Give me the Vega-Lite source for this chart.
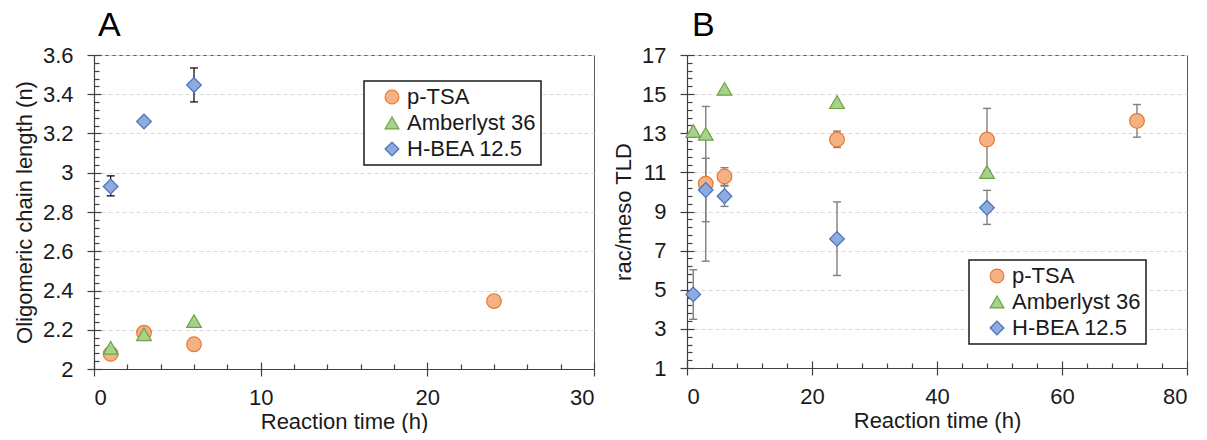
{
  "$schema": "https://vega.github.io/schema/vega-lite/v6.json",
  "background": "white",
  "padding": {"left": 12, "top": 8, "right": 0, "bottom": 0},
  "spacing": 16,
  "resolve": {
    "scale": {"shape": "independent", "fill": "independent", "stroke": "independent"},
    "legend": {"shape": "independent", "fill": "independent", "stroke": "independent"}
  },
  "config": {
    "font": "Liberation Sans",
    "view": {"stroke": "#595959", "strokeWidth": 1},
    "axis": {
      "labelFont": "Liberation Sans", "titleFont": "Liberation Sans",
      "labelFontSize": 22, "titleFontSize": 22, "titleFontWeight": "normal",
      "labelColor": "#1a1a1a", "titleColor": "#1a1a1a",
      "domainColor": "#404040", "tickColor": "#404040", "domainWidth": 1.2, "tickWidth": 1.2,
      "gridColor": "#d9d9d9", "gridDash": [4, 3], "gridWidth": 1
    },
    "legend": {
      "orient": "none", "strokeColor": "#1a1a1a", "fillColor": "white", "strokeWidth": 1.5,
      "padding": 5, "labelFont": "Liberation Sans", "labelFontSize": 22, "labelColor": "#1a1a1a",
      "symbolSize": 190, "symbolStrokeWidth": 1.2, "symbolOffset": 12, "labelOffset": 4,
      "rowPadding": 4, "symbolOpacity": 1, "labelLimit": 300,
      "labelExpr": "datum.label + '\u00a0\u00a0\u00a0\u00a0'"
    },
    "title": {"font": "Liberation Sans", "fontSize": 34, "fontWeight": "normal", "color": "black", "anchor": "start", "frame": "group", "baseline": "alphabetic", "offset": 1}
  },
  "datasets": {
    "A": [
      {"catalyst": "p-TSA", "t": 1, "v": 2.077},
      {"catalyst": "p-TSA", "t": 3, "v": 2.185},
      {"catalyst": "p-TSA", "t": 6, "v": 2.126},
      {"catalyst": "p-TSA", "t": 24, "v": 2.346},
      {"catalyst": "Amberlyst 36", "t": 1, "v": 2.108},
      {"catalyst": "Amberlyst 36", "t": 3, "v": 2.177},
      {"catalyst": "Amberlyst 36", "t": 6, "v": 2.244},
      {"catalyst": "H-BEA 12.5", "t": 1, "v": 2.93, "lo": 2.882, "hi": 2.984},
      {"catalyst": "H-BEA 12.5", "t": 3, "v": 3.261},
      {"catalyst": "H-BEA 12.5", "t": 6, "v": 3.447, "lo": 3.361, "hi": 3.534}
    ],
    "B": [
      {"catalyst": "p-TSA", "t": 3, "v": 10.42, "lo": 6.46, "hi": 14.37},
      {"catalyst": "p-TSA", "t": 6, "v": 10.79, "lo": 10.34, "hi": 11.24},
      {"catalyst": "p-TSA", "t": 24, "v": 12.68, "lo": 12.27, "hi": 13.11},
      {"catalyst": "p-TSA", "t": 48, "v": 12.68, "lo": 11.09, "hi": 14.27},
      {"catalyst": "p-TSA", "t": 72, "v": 13.63, "lo": 12.8, "hi": 14.47},
      {"catalyst": "Amberlyst 36", "t": 1, "v": 13.11},
      {"catalyst": "Amberlyst 36", "t": 3, "v": 12.97},
      {"catalyst": "Amberlyst 36", "t": 6, "v": 15.27},
      {"catalyst": "Amberlyst 36", "t": 24, "v": 14.59},
      {"catalyst": "Amberlyst 36", "t": 48, "v": 11.02},
      {"catalyst": "H-BEA 12.5", "t": 1, "v": 4.76, "lo": 3.49, "hi": 6.02},
      {"catalyst": "H-BEA 12.5", "t": 3, "v": 10.1, "lo": 8.48, "hi": 11.72},
      {"catalyst": "H-BEA 12.5", "t": 6, "v": 9.78, "lo": 9.26, "hi": 10.3},
      {"catalyst": "H-BEA 12.5", "t": 24, "v": 7.6, "lo": 5.73, "hi": 9.49},
      {"catalyst": "H-BEA 12.5", "t": 48, "v": 9.19, "lo": 8.34, "hi": 10.08}
    ]
  },
  "hconcat": [
    {
      "title": {"text": "A", "dx": 4},
      "width": 500,
      "height": 314,
      "data": {"name": "A"},
      "resolve": {"axis": {"x": "independent", "y": "independent"}},
      "layer": [
        {
          "transform": [{"filter": "isValid(datum.lo)"}],
          "mark": {"type": "rule", "color": "black", "strokeWidth": 1.2},
          "encoding": {
            "x": {"field": "t", "type": "quantitative", "scale": {"domain": [0, 30], "nice": false, "zero": false},
              "axis": {"orient": "bottom", "values": [2,4,6,8,12,14,16,18,22,24,26,28], "tickSize": -5, "labels": false, "domain": false, "grid": false, "title": null}},
            "y": {"field": "lo", "type": "quantitative", "scale": {"domain": [2, 3.6], "nice": false, "zero": false},
              "axis": {"orient": "left", "values": [2.04,2.08,2.12,2.16,2.24,2.28,2.32,2.36,2.44,2.48,2.52,2.56,2.64,2.68,2.72,2.76,2.84,2.88,2.92,2.96,3.04,3.08,3.12,3.16,3.24,3.28,3.32,3.36,3.44,3.48,3.52,3.56], "tickSize": -5, "labels": false, "domain": false, "grid": false, "title": null}},
            "y2": {"field": "hi"}
          }
        },
        {
          "transform": [{"filter": "isValid(datum.lo)"}],
          "mark": {"type": "tick", "orient": "horizontal", "size": 8, "thickness": 1.2, "color": "black", "opacity": 1},
          "encoding": {
            "x": {"field": "t", "type": "quantitative", "scale": {"domain": [0, 30], "nice": false, "zero": false},
              "axis": {"orient": "bottom", "values": [0, 10, 20, 30], "tickSize": -7, "labels": false, "domain": false, "grid": false, "title": null}},
            "y": {"field": "lo", "type": "quantitative", "scale": {"domain": [2, 3.6], "nice": false, "zero": false},
              "axis": {"orient": "left", "values": [2, 2.2, 2.4, 2.6, 2.8, 3, 3.2, 3.4, 3.6], "tickSize": -7, "labels": false, "domain": false, "grid": false, "title": null}}
          }
        },
        {
          "transform": [{"filter": "isValid(datum.hi)"}],
          "mark": {"type": "tick", "orient": "horizontal", "size": 8, "thickness": 1.2, "color": "black", "opacity": 1},
          "encoding": {
            "x": {"field": "t", "type": "quantitative", "scale": {"domain": [0, 30], "nice": false, "zero": false}, "axis": null},
            "y": {"field": "hi", "type": "quantitative", "scale": {"domain": [2, 3.6], "nice": false, "zero": false}, "axis": null}
          }
        },
        {
          "mark": {"type": "point", "filled": true, "opacity": 1, "size": 215, "strokeWidth": 1.2},
          "encoding": {
            "x": {"field": "t", "type": "quantitative", "scale": {"domain": [0, 30], "nice": false, "zero": false},
              "axis": {"orient": "bottom", "values": [0, 10, 20, 30], "tickSize": 7, "labelPadding": 11, "titlePadding": 3, "grid": false, "title": "Reaction time (h)"}},
            "y": {"field": "v", "type": "quantitative", "scale": {"domain": [2, 3.6], "nice": false, "zero": false},
              "axis": {"orient": "left", "values": [2, 2.2, 2.4, 2.6, 2.8, 3, 3.2, 3.4, 3.6], "format": "~g", "tickSize": 7, "labelPadding": 14, "titlePadding": 6, "grid": true, "title": "Oligomeric chain length (n)"}},
            "shape": {"field": "catalyst", "type": "nominal",
              "scale": {"domain": ["p-TSA", "Amberlyst 36", "H-BEA 12.5"], "range": ["circle", "triangle-up", "diamond"]},
              "legend": {"title": null, "legendX": 270, "legendY": 26}},
            "fill": {"field": "catalyst", "type": "nominal",
              "scale": {"domain": ["p-TSA", "Amberlyst 36", "H-BEA 12.5"], "range": ["#F4B183", "#A9D18E", "#8FAADC"]},
              "legend": {"title": null, "legendX": 270, "legendY": 26}},
            "stroke": {"field": "catalyst", "type": "nominal",
              "scale": {"domain": ["p-TSA", "Amberlyst 36", "H-BEA 12.5"], "range": ["#E57A35", "#6AA544", "#4472C4"]},
              "legend": {"title": null, "legendX": 270, "legendY": 26}}
          }
        }
      ]
    },
    {
      "title": {"text": "B", "dx": 5},
      "width": 500,
      "height": 313,
      "data": {"name": "B"},
      "resolve": {"axis": {"x": "independent", "y": "independent"}},
      "layer": [
        {
          "transform": [{"filter": "isValid(datum.lo)"}],
          "mark": {"type": "rule", "color": "#7f7f7f", "strokeWidth": 1.4},
          "encoding": {
            "x": {"field": "t", "type": "quantitative", "scale": {"domain": [0, 80], "nice": false, "zero": false},
              "axis": {"orient": "bottom", "values": [4,8,12,16,24,28,32,36,44,48,52,56,64,68,72,76], "tickSize": -5, "labels": false, "domain": false, "grid": false, "title": null}},
            "y": {"field": "lo", "type": "quantitative", "scale": {"domain": [1, 17], "nice": false, "zero": false},
              "axis": {"orient": "left", "values": [1.4,1.8,2.2,2.6,3.4,3.8,4.2,4.6,5.4,5.8,6.2,6.6,7.4,7.8,8.2,8.6,9.4,9.8,10.2,10.6,11.4,11.8,12.2,12.6,13.4,13.8,14.2,14.6,15.4,15.8,16.2,16.6], "tickSize": -5, "labels": false, "domain": false, "grid": false, "title": null}},
            "y2": {"field": "hi"}
          }
        },
        {
          "transform": [{"filter": "isValid(datum.lo)"}],
          "mark": {"type": "tick", "orient": "horizontal", "size": 8, "thickness": 1.4, "color": "#7f7f7f", "opacity": 1},
          "encoding": {
            "x": {"field": "t", "type": "quantitative", "scale": {"domain": [0, 80], "nice": false, "zero": false},
              "axis": {"orient": "bottom", "values": [0, 20, 40, 60, 80], "tickSize": -7, "labels": false, "domain": false, "grid": false, "title": null}},
            "y": {"field": "lo", "type": "quantitative", "scale": {"domain": [1, 17], "nice": false, "zero": false},
              "axis": {"orient": "left", "values": [1, 3, 5, 7, 9, 11, 13, 15, 17], "tickSize": -7, "labels": false, "domain": false, "grid": false, "title": null}}
          }
        },
        {
          "transform": [{"filter": "isValid(datum.hi)"}],
          "mark": {"type": "tick", "orient": "horizontal", "size": 8, "thickness": 1.4, "color": "#7f7f7f", "opacity": 1},
          "encoding": {
            "x": {"field": "t", "type": "quantitative", "scale": {"domain": [0, 80], "nice": false, "zero": false}, "axis": null},
            "y": {"field": "hi", "type": "quantitative", "scale": {"domain": [1, 17], "nice": false, "zero": false}, "axis": null}
          }
        },
        {
          "mark": {"type": "point", "filled": true, "opacity": 1, "size": 215, "strokeWidth": 1.2},
          "encoding": {
            "x": {"field": "t", "type": "quantitative", "scale": {"domain": [0, 80], "nice": false, "zero": false},
              "axis": {"orient": "bottom", "values": [0, 20, 40, 60, 80], "tickSize": 7, "labelPadding": 11, "titlePadding": 3, "grid": false, "title": "Reaction time (h)"}},
            "y": {"field": "v", "type": "quantitative", "scale": {"domain": [1, 17], "nice": false, "zero": false},
              "axis": {"orient": "left", "values": [1, 3, 5, 7, 9, 11, 13, 15, 17], "format": "~g", "tickSize": 7, "labelPadding": 14, "titlePadding": 6, "grid": true, "title": "rac/meso TLD"}},
            "shape": {"field": "catalyst", "type": "nominal",
              "scale": {"domain": ["p-TSA", "Amberlyst 36", "H-BEA 12.5"], "range": ["circle", "triangle-up", "diamond"]},
              "legend": {"title": null, "legendX": 282, "legendY": 205}},
            "fill": {"field": "catalyst", "type": "nominal",
              "scale": {"domain": ["p-TSA", "Amberlyst 36", "H-BEA 12.5"], "range": ["#F4B183", "#A9D18E", "#8FAADC"]},
              "legend": {"title": null, "legendX": 282, "legendY": 205}},
            "stroke": {"field": "catalyst", "type": "nominal",
              "scale": {"domain": ["p-TSA", "Amberlyst 36", "H-BEA 12.5"], "range": ["#E57A35", "#6AA544", "#4472C4"]},
              "legend": {"title": null, "legendX": 282, "legendY": 205}}
          }
        }
      ]
    }
  ]
}
